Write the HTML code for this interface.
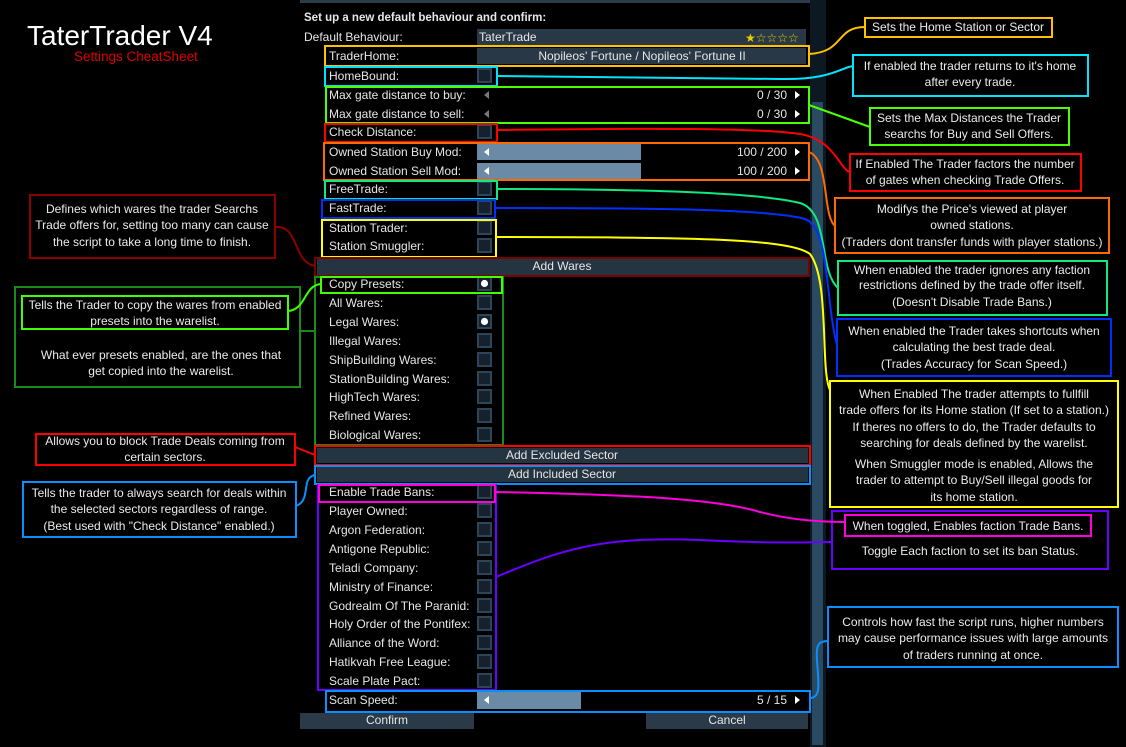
<!DOCTYPE html>
<html><head><meta charset="utf-8"><style>
html,body{margin:0;padding:0;background:#000;}
body{width:1126px;height:747px;overflow:hidden;position:relative;}
svg{position:absolute;left:0;top:0;}
.ui{font-family:"Liberation Sans",sans-serif;font-size:12px;fill:#e6e6e6;}
.an{font-family:"Liberation Sans",sans-serif;font-size:12px;fill:#ebebeb;text-anchor:middle;}
</style></head><body>
<svg width="1126" height="747" viewBox="0 0 1126 747" xmlns="http://www.w3.org/2000/svg">
<!-- title -->
<text x="27" y="45" font-family="Liberation Sans, sans-serif" font-size="28" fill="#ffffff">TaterTrader V4</text>
<text x="74" y="61" font-family="Liberation Sans, sans-serif" font-size="13.5" fill="#e00000">Settings CheatSheet</text>

<!-- panel top bar & scrollbar -->
<rect x="300" y="0" width="510" height="3" fill="#2c3c4a"/>
<rect x="810" y="0" width="16" height="747" fill="#0c1822"/>
<rect x="812" y="102" width="11" height="643" fill="#2a4a62"/>

<!-- value boxes -->
<rect x="477" y="29" width="329" height="17" fill="#283846"/>
<rect x="477" y="48" width="329" height="16" fill="#283846"/>
<!-- sliders -->
<rect x="477" y="144" width="164" height="16" fill="#6b8aa6"/>
<rect x="477" y="163" width="164" height="16" fill="#6b8aa6"/>
<rect x="477" y="692" width="104" height="17" fill="#6b8aa6"/>
<!-- buttons -->
<rect x="317" y="259" width="491" height="16" fill="#253441"/>
<rect x="317" y="448" width="491" height="15" fill="#253441"/>
<rect x="317" y="467" width="491" height="15" fill="#253441"/>
<rect x="300" y="713" width="174" height="16" fill="#2a3a48"/>
<rect x="646" y="713" width="162" height="16" fill="#2a3a48"/>

<!-- checkboxes -->
<g fill="#15222d" stroke="#2c4558" stroke-width="2">
<rect x="478" y="69" width="13" height="13"/>
<rect x="478" y="125" width="13" height="13"/>
<rect x="478" y="182" width="13" height="13"/>
<rect x="478" y="201" width="13" height="13"/>
<rect x="478" y="221" width="13" height="13"/>
<rect x="478" y="239" width="13" height="13"/>
<rect x="478" y="277" width="13" height="13"/>
<rect x="478" y="296" width="13" height="13"/>
<rect x="478" y="315" width="13" height="13"/>
<rect x="478" y="334" width="13" height="13"/>
<rect x="478" y="353" width="13" height="13"/>
<rect x="478" y="372" width="13" height="13"/>
<rect x="478" y="390" width="13" height="13"/>
<rect x="478" y="409" width="13" height="13"/>
<rect x="478" y="428" width="13" height="13"/>
<rect x="478" y="485" width="13" height="13"/>
<rect x="478" y="504" width="13" height="13"/>
<rect x="478" y="523" width="13" height="13"/>
<rect x="478" y="542" width="13" height="13"/>
<rect x="478" y="561" width="13" height="13"/>
<rect x="478" y="580" width="13" height="13"/>
<rect x="478" y="599" width="13" height="13"/>
<rect x="478" y="617" width="13" height="13"/>
<rect x="478" y="636" width="13" height="13"/>
<rect x="478" y="655" width="13" height="13"/>
<rect x="478" y="674" width="13" height="13"/>
</g>
<circle cx="484.5" cy="283.5" r="3.6" fill="#fff"/>
<circle cx="484.5" cy="321.5" r="3.6" fill="#fff"/>

<!-- UI text -->
<text x="304" y="21" font-family="Liberation Sans, sans-serif" font-size="11.5" fill="#e6e6e6" font-weight="bold">Set up a new default behaviour and confirm:</text>
<text x="304" y="41" class="ui">Default Behaviour:</text>
<text x="479" y="41" class="ui">TaterTrade</text>
<text x="745" y="42" font-family="DejaVu Sans, sans-serif" font-size="12" fill="#e8d000">★☆☆☆☆</text>
<text x="642" y="60" class="ui" text-anchor="middle">Nopileos' Fortune / Nopileos' Fortune II</text>
<g class="ui">
<text x="329" y="60">TraderHome:</text>
<text x="329" y="80">HomeBound:</text>
<text x="329" y="99">Max gate distance to buy:</text>
<text x="329" y="118">Max gate distance to sell:</text>
<text x="329" y="136">Check Distance:</text>
<text x="329" y="156">Owned Station Buy Mod:</text>
<text x="329" y="175">Owned Station Sell Mod:</text>
<text x="329" y="193">FreeTrade:</text>
<text x="329" y="212">FastTrade:</text>
<text x="329" y="232">Station Trader:</text>
<text x="329" y="250">Station Smuggler:</text>
<text x="329" y="288">Copy Presets:</text>
<text x="329" y="307">All Wares:</text>
<text x="329" y="326">Legal Wares:</text>
<text x="329" y="345">Illegal Wares:</text>
<text x="329" y="364">ShipBuilding Wares:</text>
<text x="329" y="383">StationBuilding Wares:</text>
<text x="329" y="401">HighTech Wares:</text>
<text x="329" y="420">Refined Wares:</text>
<text x="329" y="439">Biological Wares:</text>
<text x="329" y="496">Enable Trade Bans:</text>
<text x="329" y="515">Player Owned:</text>
<text x="329" y="534">Argon Federation:</text>
<text x="329" y="553">Antigone Republic:</text>
<text x="329" y="572">Teladi Company:</text>
<text x="329" y="591">Ministry of Finance:</text>
<text x="329" y="610">Godrealm Of The Paranid:</text>
<text x="329" y="628">Holy Order of the Pontifex:</text>
<text x="329" y="647">Alliance of the Word:</text>
<text x="329" y="666">Hatikvah Free League:</text>
<text x="329" y="685">Scale Plate Pact:</text>
<text x="329" y="704">Scan Speed:</text>
<text x="787" y="99" text-anchor="end">0 / 30</text>
<text x="787" y="118" text-anchor="end">0 / 30</text>
<text x="787" y="156" text-anchor="end">100 / 200</text>
<text x="787" y="175" text-anchor="end">100 / 200</text>
<text x="787" y="704" text-anchor="end">5 / 15</text>
<text x="562" y="270" text-anchor="middle">Add Wares</text>
<text x="562" y="459" text-anchor="middle">Add Excluded Sector</text>
<text x="562" y="478" text-anchor="middle">Add Included Sector</text>
<text x="387" y="724" text-anchor="middle">Confirm</text>
<text x="727" y="724" text-anchor="middle">Cancel</text>
</g>
<!-- arrows -->
<g fill="#777">
<polygon points="484,95 489,91 489,99"/>
<polygon points="484,114 489,110 489,118"/>
</g>
<g fill="#fff">
<polygon points="484,152 489,148 489,156"/>
<polygon points="484,171 489,167 489,175"/>
<polygon points="484,700 489,696 489,704"/>
<polygon points="800,95 795,91 795,99"/>
<polygon points="800,114 795,110 795,118"/>
<polygon points="800,152 795,148 795,156"/>
<polygon points="800,171 795,167 795,175"/>
<polygon points="800,700 795,696 795,704"/>
</g>

<!-- UI highlight boxes -->
<g fill="none" stroke-width="2">
<rect x="325" y="46" width="484" height="20" stroke="#ffc000"/>
<rect x="325" y="67" width="172" height="19" stroke="#00e0ff"/>
<rect x="326" y="87" width="483" height="36" stroke="#4cff00"/>
<rect x="325" y="124" width="172" height="18" stroke="#ff0000"/>
<rect x="324" y="143" width="485" height="37" stroke="#ff6a00"/>
<rect x="325" y="181" width="172" height="18" stroke="#10e880"/>
<rect x="322" y="200" width="173" height="18" stroke="#0030ff"/>
<rect x="322" y="220" width="174" height="37" stroke="#ffff00"/>
<rect x="315" y="258" width="494" height="18" stroke="#7a0000"/>
<rect x="315" y="277" width="188" height="168" stroke="#1a8a1a"/>
<rect x="321" y="277" width="181" height="16" stroke="#40ff00"/>
<rect x="315" y="446" width="495" height="19" stroke="#ff0000"/>
<rect x="315" y="466" width="495" height="18" stroke="#0a8fff"/>
<rect x="318" y="485" width="178" height="205" stroke="#6a00ff"/>
<rect x="319" y="485" width="176" height="17" stroke="#ff00dd"/>
<rect x="326" y="691" width="484" height="21" stroke="#0a8fff"/>

<!-- annotation boxes right -->
<rect x="865" y="18" width="187" height="19" stroke="#ffc000"/>
<rect x="853" y="55" width="235" height="41" stroke="#00e5ff"/>
<rect x="870" y="108" width="199" height="37" stroke="#4cff00"/>
<rect x="850" y="154" width="231" height="37" stroke="#ff0000"/>
<rect x="835" y="198" width="274" height="55" stroke="#ff6a00"/>
<rect x="838" y="261" width="269" height="54" stroke="#10e880"/>
<rect x="837" y="319" width="274" height="57" stroke="#0030ff"/>
<rect x="830" y="381" width="288" height="126" stroke="#ffff00"/>
<rect x="832" y="511" width="276" height="58" stroke="#6a00ff"/>
<rect x="845" y="515" width="246" height="21" stroke="#ff00dd"/>
<rect x="828" y="607" width="290" height="60" stroke="#0a8fff"/>
<!-- annotation boxes left -->
<rect x="30" y="195" width="245" height="63" stroke="#8b0000"/>
<rect x="15" y="287" width="285" height="100" stroke="#1a8a1a"/>
<rect x="22" y="296" width="266" height="33" stroke="#40ff00"/>
<rect x="36" y="434" width="259" height="31" stroke="#ff0000"/>
<rect x="23" y="482" width="273" height="55" stroke="#0a8fff"/>

<!-- connectors -->
<path d="M809,54 C845,52 835,27 865,27" stroke="#ffc000"/>
<path d="M497,76 L780,79 C830,80 840,68 853,66" stroke="#00e5ff"/>
<path d="M809,105 L870,127" stroke="#4cff00"/>
<path d="M497,130 C650,128 760,128 800,134 C835,140 840,170 850,172" stroke="#ff0000"/>
<path d="M809,152 C830,160 822,215 835,226" stroke="#ff6a00"/>
<path d="M497,189 C650,189 760,193 800,203 C830,212 818,270 838,288" stroke="#10e880"/>
<path d="M495,208 C650,208 770,209 805,219 C830,228 825,300 837,345" stroke="#0030ff"/>
<path d="M496,237 C700,237 790,239 810,254 C830,280 820,370 830,390" stroke="#ffff00"/>
<path d="M275,227 C300,225 292,262 315,266" stroke="#8b0000"/>
<path d="M288,311 C306,310 304,285 321,284" stroke="#40ff00"/>
<path d="M300,331 L315,331" stroke="#1a8a1a"/>
<path d="M295,447 L315,455" stroke="#ff0000"/>
<path d="M296,506 C312,500 300,478 315,475" stroke="#0a8fff"/>
<path d="M495,492 C650,495 720,500 760,512 C790,520 820,522 845,522" stroke="#ff00dd"/>
<path d="M496,577 C560,550 600,536 700,540 C780,544 810,542 832,542" stroke="#6a00ff"/>
<path d="M810,698 C822,698 818,680 817,660 C816,645 818,641 828,641" stroke="#0a8fff"/>
</g>

<!-- annotation text -->
<g class="an">
<text x="958" y="31">Sets the Home Station or Sector</text>
<text x="970" y="70">If enabled the trader returns to it's home</text>
<text x="970" y="86">after every trade.</text>
<text x="969" y="122">Sets the Max Distances the Trader</text>
<text x="969" y="138">searchs for Buy and Sell Offers.</text>
<text x="965" y="168">If Enabled The Trader factors the number</text>
<text x="965" y="184">of gates when checking Trade Offers.</text>
<text x="972" y="213">Modifys the Price's viewed at player</text>
<text x="972" y="229">owned stations.</text>
<text x="972" y="246">(Traders dont transfer funds with player stations.)</text>
<text x="972" y="274">When enabled the trader ignores any faction</text>
<text x="972" y="289">restrictions defined by the trade offer itself.</text>
<text x="972" y="306">(Doesn't Disable Trade Bans.)</text>
<text x="974" y="335">When enabled the Trader takes shortcuts when</text>
<text x="974" y="351">calculating the best trade deal.</text>
<text x="974" y="368">(Trades Accuracy for Scan Speed.)</text>
<text x="974" y="398">When Enabled The trader attempts to fullfill</text>
<text x="974" y="414">trade offers for its Home station (If set to a station.)</text>
<text x="974" y="431">If theres no offers to do, the Trader defaults to</text>
<text x="974" y="447">searching for deals defined by the warelist.</text>
<text x="974" y="468">When Smuggler mode is enabled, Allows the</text>
<text x="974" y="484">trader to attempt to Buy/Sell illegal goods for</text>
<text x="974" y="501">its home station.</text>
<text x="968" y="530">When toggled, Enables faction Trade Bans.</text>
<text x="970" y="555">Toggle Each faction to set its ban Status.</text>
<text x="973" y="626">Controls how fast the script runs, higher numbers</text>
<text x="973" y="642">may cause performance issues with large amounts</text>
<text x="973" y="659">of traders running at once.</text>
<text x="152" y="213">Defines which wares the trader Searchs</text>
<text x="152" y="229">Trade offers for, setting too many can cause</text>
<text x="152" y="246">the script to take a long time to finish.</text>
<text x="155" y="309">Tells the Trader to copy the wares from enabled</text>
<text x="155" y="325">presets into the warelist.</text>
<text x="161" y="359">What ever presets enabled, are the ones that</text>
<text x="161" y="375">get copied into the warelist.</text>
<text x="165" y="445">Allows you to block Trade Deals coming from</text>
<text x="165" y="461">certain sectors.</text>
<text x="159" y="497">Tells the trader to always search for deals within</text>
<text x="159" y="513">the selected sectors regardless of range.</text>
<text x="159" y="530">(Best used with "Check Distance" enabled.)</text>
</g>
</svg>
</body></html>
